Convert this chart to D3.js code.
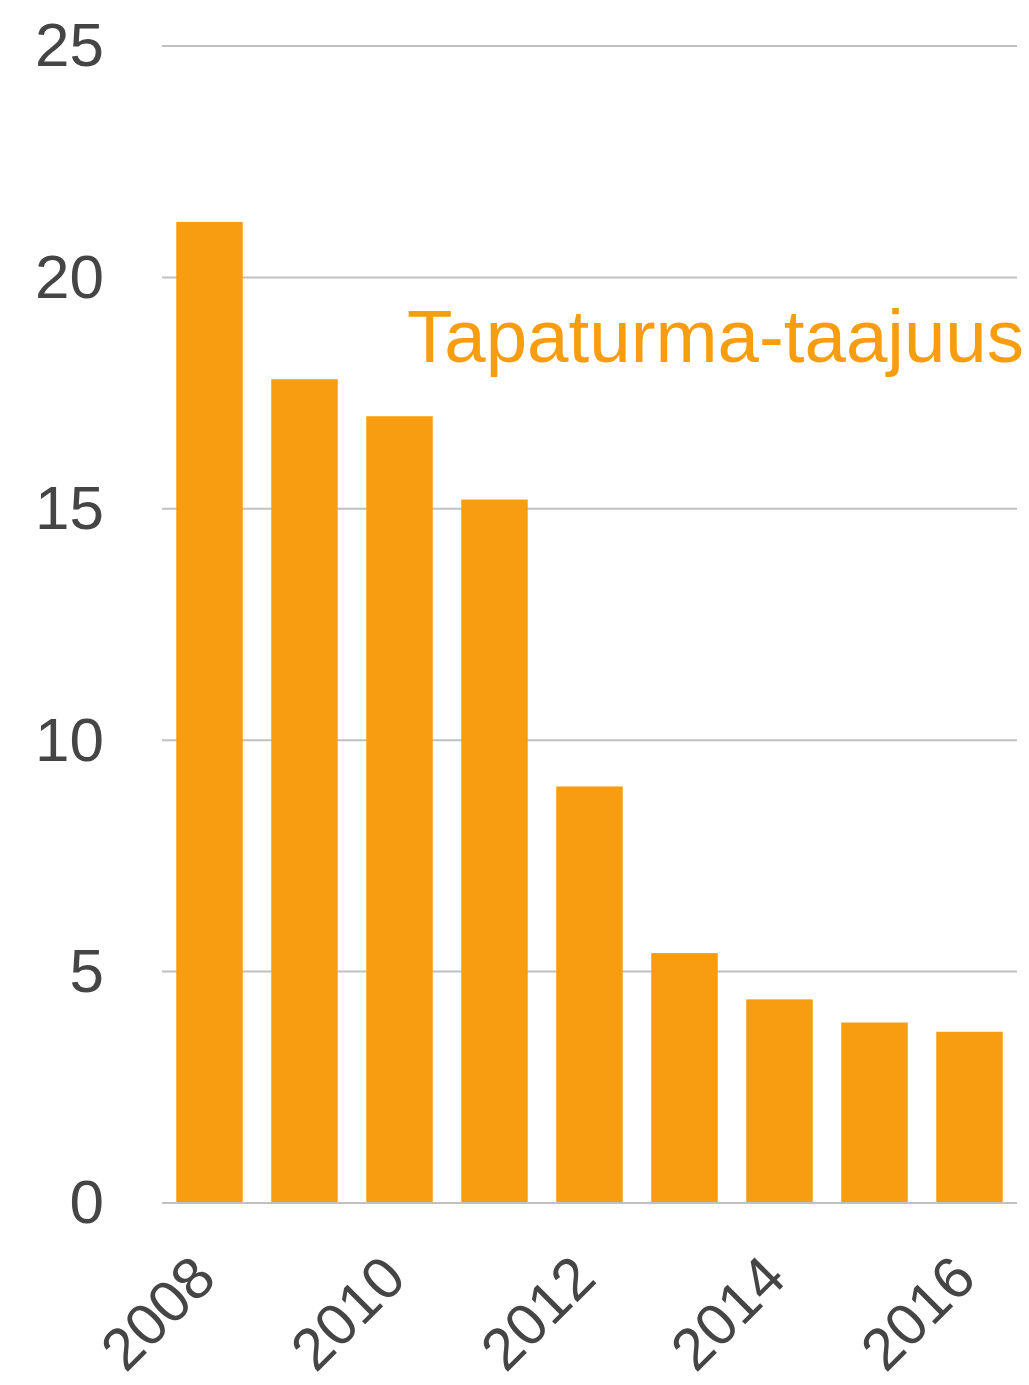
<!DOCTYPE html>
<html>
<head>
<meta charset="utf-8">
<script src="https://cdn.jsdelivr.net/npm/d3@7"></script>
<style>
  body { margin: 0; background: #fff; }
  svg { display: block; font-family: "Liberation Sans", Arial, sans-serif; }
</style>
</head>
<body>
<svg id="svg" width="1029" height="1385"></svg>
<script>
// data
var years = [2008, 2009, 2010, 2011, 2012, 2013, 2014, 2015, 2016];
var values = [21.2, 17.8, 17.0, 15.2, 9.0, 5.4, 4.4, 3.9, 3.7];
var yTicks = [0, 5, 10, 15, 20, 25];
var xLabels = [2008, 2010, 2012, 2014, 2016];
var seriesName = "Tapaturma-taajuus";

var svg = d3.select("#svg");

// plot area (note: "top" is taken by window.top, so use plotTop)
var plotLeft = 162, plotRight = 1017, plotTop = 46, plotBottom = 1203;
var orange = "#f99d10",
    grey = "#c0c0c0",
    textColor = "#454545";

var x = d3.scaleBand()
    .domain(years)
    .range([plotLeft, plotRight])
    .paddingInner(0.3)
    .paddingOuter(0.15);

var y = d3.scaleLinear()
    .domain([0, 25])
    .range([plotBottom, plotTop]);

// gridlines
svg.append("g")
    .selectAll("line")
    .data(yTicks)
    .enter().append("line")
    .attr("x1", plotLeft)
    .attr("x2", plotRight)
    .attr("y1", function(d) { return y(d); })
    .attr("y2", function(d) { return y(d); })
    .attr("stroke", grey)
    .attr("stroke-width", 2);

// bars
svg.append("g")
    .selectAll("rect")
    .data(values)
    .enter().append("rect")
    .attr("x", function(d, i) { return x(years[i]); })
    .attr("width", x.bandwidth())
    .attr("y", function(d) { return y(d); })
    .attr("height", function(d) { return y(0) - y(d) - 1; })
    .attr("fill", orange);

// y axis labels
var yAxis = d3.axisLeft(y)
    .tickValues(yTicks)
    .tickSize(0)
    .tickPadding(0)
    .tickFormat(d3.format("d"));

svg.append("g")
    .attr("transform", "translate(104,0)")
    .call(yAxis)
    .call(function(g) { g.select(".domain").remove(); })
    .selectAll("text")
    .attr("fill", textColor)
    .attr("font-size", 62)
    .attr("font-family", "Liberation Sans, Arial, sans-serif");

// x axis labels, rotated
svg.append("g")
    .selectAll("text")
    .data(xLabels)
    .enter().append("text")
    .attr("transform", function(d) {
      return "translate(" + (x(d) + x.bandwidth() / 2 + 9) + ",1281) rotate(-45)";
    })
    .attr("text-anchor", "end")
    .attr("fill", textColor)
    .attr("font-size", 59)
    .text(function(d) { return d; });

// series label
svg.append("text")
    .attr("x", 407)
    .attr("y", 362)
    .attr("fill", orange)
    .attr("font-size", 74.5)
    .text(seriesName);
</script>
</body>
</html>
